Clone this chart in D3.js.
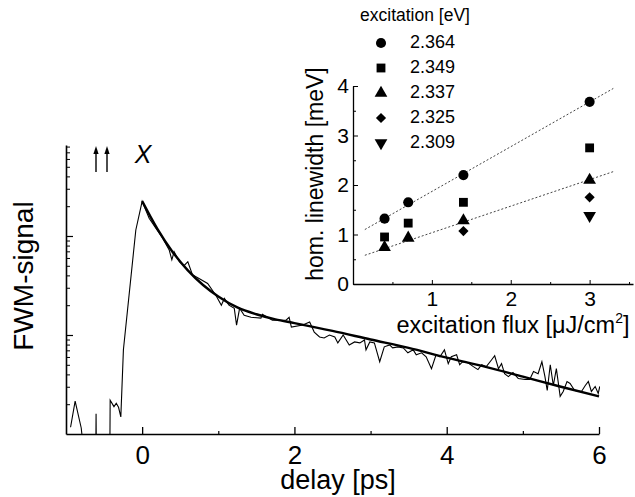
<!DOCTYPE html>
<html>
<head>
<meta charset="utf-8">
<script src="https://cdn.jsdelivr.net/npm/d3@7"></script>
<style>
    body { margin: 0; background: #fff; }
    svg { font-family: "Liberation Sans", Arial, sans-serif; }
    .axis path, .axis line { stroke: #000; }
    .axis text { fill: #000; }
</style>
</head>
<body>
<div id="chart-area"></div>
<script>
// main panel: FWM transient (delay in ps, signal in arb. units, log scale)
var delayData = [-0.94, -0.88, -0.80, -0.75, -0.61, -0.605, -0.60, -0.425, -0.42, -0.37, -0.34, -0.31, -0.28, -0.246, -0.083,
    0, 0.092, 0.171, 0.268, 0.355, 0.39, 0.42, 0.49, 0.55, 0.60, 0.66, 0.77, 0.86, 0.97, 1.04, 1.08, 1.14, 1.21, 1.24, 1.28,
    1.34, 1.43, 1.56, 1.58, 1.71, 1.89, 1.93, 1.96, 2.11, 2.20, 2.26, 2.33, 2.39, 2.46, 2.53, 2.57, 2.64, 2.72, 2.79, 2.86,
    2.92, 2.94, 2.99, 3.05, 3.12, 3.18, 3.25, 3.29, 3.36, 3.43, 3.49, 3.56, 3.60, 3.67, 3.73, 3.80, 3.86, 3.91, 3.97, 4.02,
    4.06, 4.13, 4.17, 4.21, 4.28, 4.35, 4.41, 4.46, 4.52, 4.59, 4.63, 4.68, 4.72, 4.76, 4.81, 4.87, 4.94, 5.03, 5.09, 5.14,
    5.20, 5.25, 5.29, 5.32, 5.36, 5.40, 5.44, 5.49, 5.53, 5.58, 5.62, 5.68, 5.77, 5.82, 5.86, 5.90, 5.95, 5.99, 6.01];
var signalData = [1.17, 2.15, 1.15, 0.5, 0.5, 1.6, 0.5, 0.5, 2.19, 1.89, 2.04, 1.86, 1.49, 7.1, 115,
    224, 151, 123, 95.5, 72.4, 57.5, 69.2, 55.0, 50.1, 55.0, 40.7, 36.3, 33.1, 25.1, 20.0, 23.4, 20.0, 18.6, 12.6, 18.6,
    15.8, 15.1, 14.8, 16.2, 14.1, 14.1, 15.1, 12.0, 12.6, 13.5, 10.7, 9.55, 9.33, 10.0, 9.55, 8.32, 10.0, 7.94, 8.51, 8.32,
    8.91, 7.08, 8.51, 8.32, 5.37, 7.59, 7.94, 7.41, 7.59, 7.41, 6.61, 7.08, 6.31, 6.61, 6.03, 4.57, 6.31, 6.03, 7.08, 5.13,
    6.03, 6.31, 5.01, 5.37, 5.25, 4.79, 4.47, 5.01, 4.79, 5.62, 6.17, 4.57, 5.13, 4.07, 3.80, 4.17, 3.63, 3.55, 3.55, 4.27,
    4.07, 5.37, 3.80, 2.75, 5.01, 3.09, 4.57, 2.40, 2.69, 3.39, 3.24, 2.75, 2.69, 3.09, 3.39, 2.69, 3.02, 2.57, 3.02];

// fitted decay (thick line)
var fitDelay = [0, 0.2, 0.4, 0.6, 0.8, 1.0, 1.25, 1.5, 1.75, 2.0, 2.5, 3.0, 3.5, 4.0, 4.5, 5.0, 5.5, 6.0];
var fitSignal = [225, 118, 69, 45, 32, 24.5, 19, 16.2, 14.4, 13.2, 11.0, 9.0, 7.4, 5.9, 4.8, 3.8, 3.0, 2.4];

var delayTicks = [0, 2, 4, 6];
var delayMinorTicks = [1, 3, 5];

// inset: homogeneous linewidth vs excitation flux
var fluxValues = [0.4, 0.7, 1.4, 3.0];
var energyLabels = ["2.364", "2.349", "2.337", "2.325", "2.309"];
var width2364 = [1.32, 1.65, 2.20, 3.68];
var width2349 = [0.95, 1.23, 1.65, 2.75];
var width2337 = [0.74, 0.93, 1.28, 2.10];
var width2325 = [null, null, 1.07, 1.75];
var width2309 = [null, null, null, 1.38];
var linewidthSeries = [width2364, width2349, width2337, width2325, width2309];

// dotted linear guides
var guideFlux = [0.15, 3.3];
var guideUpper = [1.10, 3.95];
var guideLower = [0.58, 2.27];

var fluxTicks = [1, 2, 3];
var fluxMinorTicks = [0.5, 1.5, 2.5, 3.5];
var widthTicks = [0, 1, 2, 3, 4];
var widthMinorTicks = [0.5, 1.5, 2.5, 3.5];

var width = 635,
    height = 497;

var svg = d3.select("#chart-area").append("svg")
    .attr("width", width)
    .attr("height", height);

svg.append("defs").append("clipPath")
    .attr("id", "plotclip")
    .append("rect")
    .attr("x", 66).attr("y", 140)
    .attr("width", 534).attr("height", 294);

// ---- main panel ----
var x = d3.scaleLinear().domain([-1, 6]).range([66, 599]);
var y = d3.scaleLog().domain([1, 830]).range([434, 145]);

svg.append("g")
    .attr("class", "axis")
    .attr("transform", "translate(0,434)")
    .call(d3.axisBottom(x).tickValues(delayTicks).tickSizeInner(-7).tickSizeOuter(0).tickPadding(12).tickFormat(d3.format("d")))
    .call(function(g) {
        g.select(".domain").attr("stroke-width", 1.6);
        g.selectAll("line").attr("stroke-width", 1.3);
        g.selectAll("text").attr("font-size", 26).attr("font-family", null);
    });

svg.append("g")
    .attr("class", "axis")
    .attr("transform", "translate(0,434)")
    .call(d3.axisBottom(x).tickValues(delayMinorTicks).tickSizeInner(-3).tickSizeOuter(0).tickFormat(""))
    .call(function(g) { g.select(".domain").remove(); g.selectAll("line").attr("stroke-width", 1.2); });

var yMinor = y.ticks().filter(function(d) {
    var l = Math.log10(d);
    return Math.abs(l - Math.round(l)) > 1e-6;
});

svg.append("g")
    .attr("class", "axis")
    .attr("transform", "translate(66,0)")
    .call(d3.axisLeft(y).tickValues([10, 100]).tickSizeInner(-7).tickSizeOuter(0).tickFormat(""))
    .call(function(g) {
        g.select(".domain").attr("stroke-width", 1.6);
        g.selectAll("line").attr("stroke-width", 1.2);
    });

svg.append("g")
    .attr("class", "axis")
    .attr("transform", "translate(66,0)")
    .call(d3.axisLeft(y).tickValues(yMinor).tickSizeInner(-4).tickSizeOuter(0).tickFormat(""))
    .call(function(g) { g.select(".domain").remove(); g.selectAll("line").attr("stroke-width", 1); });

var dataPts = delayData.map(function(d, i) { return [d, signalData[i]]; });
var fitPts = fitDelay.map(function(d, i) { return [d, fitSignal[i]]; });

var line = d3.line()
    .x(function(d) { return x(d[0]); })
    .y(function(d) { return y(d[1]); });

var plot = svg.append("g").attr("clip-path", "url(#plotclip)");

plot.append("path")
    .datum(dataPts)
    .attr("d", line)
    .attr("fill", "none")
    .attr("stroke", "#000")
    .attr("stroke-width", 1.1)
    .attr("stroke-linejoin", "miter");

plot.append("path")
    .datum(fitPts)
    .attr("d", line.curve(d3.curveMonotoneX))
    .attr("fill", "none")
    .attr("stroke", "#000")
    .attr("stroke-width", 2.4);

svg.append("text")
    .attr("x", 338).attr("y", 489)
    .attr("text-anchor", "middle")
    .attr("font-size", 27)
    .text("delay [ps]");

svg.append("text")
    .attr("transform", "translate(33,276)rotate(-90)")
    .attr("text-anchor", "middle")
    .attr("font-size", 28)
    .text("FWM-signal");

// polarisation arrows and X label
[96, 107].forEach(function(ax) {
    svg.append("line")
        .attr("x1", ax).attr("x2", ax)
        .attr("y1", 172).attr("y2", 152)
        .attr("stroke", "#000")
        .attr("stroke-width", 1.4);
    svg.append("path")
        .attr("d", "M" + ax + ",146L" + (ax - 2.6) + ",154L" + (ax + 2.6) + ",154Z")
        .attr("fill", "#000");
});

svg.append("text")
    .attr("x", 143).attr("y", 163)
    .attr("text-anchor", "middle")
    .attr("font-size", 25)
    .attr("font-style", "italic")
    .text("X");

// ---- inset ----
var xi = d3.scaleLinear().domain([0, 3.55]).range([353, 633]);
var yi = d3.scaleLinear().domain([0, 4]).range([284, 86]);

svg.append("g")
    .attr("class", "axis")
    .attr("transform", "translate(0,284)")
    .call(d3.axisBottom(xi).tickValues(fluxTicks).tickSizeInner(-4).tickSizeOuter(0).tickPadding(7).tickFormat(d3.format("d")))
    .call(function(g) {
        g.select(".domain").attr("stroke-width", 1.3);
        g.selectAll("text").attr("font-size", 21).attr("font-family", null);
    });

svg.append("g")
    .attr("class", "axis")
    .attr("transform", "translate(0,284)")
    .call(d3.axisBottom(xi).tickValues(fluxMinorTicks).tickSizeInner(-2).tickSizeOuter(0).tickFormat(""))
    .call(function(g) { g.select(".domain").remove(); });

svg.append("g")
    .attr("class", "axis")
    .attr("transform", "translate(353,0)")
    .call(d3.axisLeft(yi).tickValues(widthTicks).tickSizeInner(-5).tickSizeOuter(0).tickPadding(4).tickFormat(d3.format("d")))
    .call(function(g) {
        g.select(".domain").attr("stroke-width", 1.3);
        g.selectAll("text").attr("font-size", 21).attr("font-family", null);
    });

svg.append("g")
    .attr("class", "axis")
    .attr("transform", "translate(353,0)")
    .call(d3.axisLeft(yi).tickValues(widthMinorTicks).tickSizeInner(-3).tickSizeOuter(0).tickFormat(""))
    .call(function(g) { g.select(".domain").remove(); });

[guideUpper, guideLower].forEach(function(gl) {
    svg.append("path")
        .datum(guideFlux.map(function(f, i) { return [f, gl[i]]; }))
        .attr("d", d3.line().x(function(d) { return xi(d[0]); }).y(function(d) { return yi(d[1]); }))
        .attr("fill", "none")
        .attr("stroke", "#444")
        .attr("stroke-width", 1)
        .attr("stroke-dasharray", "2,2");
});

// symbols: circle, square, triangle, diamond, inverted triangle
var symbolDefs = [
    {type: d3.symbolCircle, size: 80, rot: 0},
    {type: d3.symbolSquare, size: 78, rot: 0},
    {type: d3.symbolTriangle, size: 70, rot: 0},
    {type: d3.symbolSquare, size: 52, rot: 45},
    {type: d3.symbolTriangle, size: 70, rot: 180}
];

linewidthSeries.forEach(function(series, s) {
    var sym = d3.symbol().type(symbolDefs[s].type).size(symbolDefs[s].size);
    svg.append("g").selectAll("path")
        .data(series.map(function(v, i) { return [fluxValues[i], v]; }).filter(function(d) { return d[1] != null; }))
        .enter().append("path")
        .attr("d", sym)
        .attr("transform", function(d) {
            return "translate(" + xi(d[0]) + "," + yi(d[1]) + ")rotate(" + symbolDefs[s].rot + ")";
        })
        .attr("fill", "#000");
});

var xlab = svg.append("text")
    .attr("x", 513).attr("y", 333)
    .attr("text-anchor", "middle")
    .attr("font-size", 23.5);
xlab.append("tspan").text("excitation flux [\u03bcJ/cm");
xlab.append("tspan").attr("font-size", 14).attr("dy", -10).text("2");
xlab.append("tspan").attr("dy", 10).text("]");

svg.append("text")
    .attr("transform", "translate(323,174)rotate(-90)")
    .attr("text-anchor", "middle")
    .attr("font-size", 23)
    .text("hom. linewidth [meV]");

// legend
svg.append("text")
    .attr("x", 415).attr("y", 21)
    .attr("text-anchor", "middle")
    .attr("font-size", 17.5)
    .text("excitation [eV]");

var legend = svg.append("g").selectAll("g")
    .data(energyLabels)
    .enter().append("g")
    .attr("transform", function(d, i) { return "translate(0," + (43 + 25 * i) + ")"; });

legend.append("path")
    .attr("d", function(d, i) { return d3.symbol().type(symbolDefs[i].type).size(symbolDefs[i].size)(); })
    .attr("transform", function(d, i) { return "translate(381,0)rotate(" + symbolDefs[i].rot + ")"; })
    .attr("fill", "#000");

legend.append("text")
    .attr("x", 410).attr("y", 5)
    .attr("font-size", 18)
    .text(function(d) { return d; });
</script>
</body>
</html>
